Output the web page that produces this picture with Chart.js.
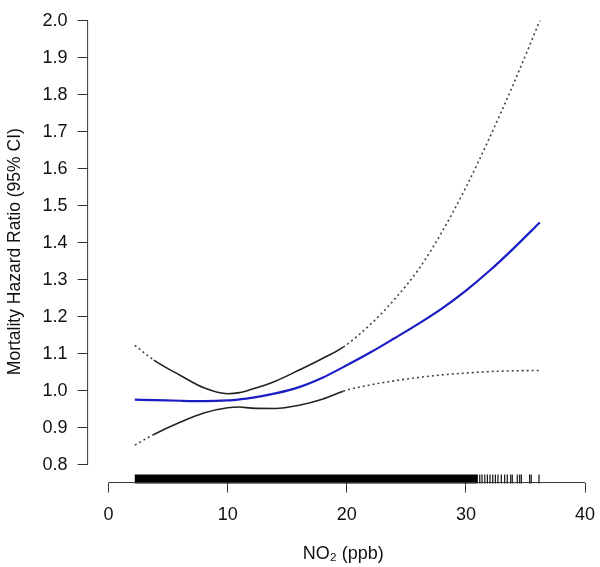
<!DOCTYPE html>
<html>
<head>
<meta charset="utf-8">
<script src="https://cdn.jsdelivr.net/npm/chart.js@4"></script>
<style>
    html, body { margin: 0; padding: 0; background: #fff; }
    #wrap { width: 600px; height: 567px; }
</style>
</head>
<body>
<div id="wrap"><canvas id="hrChart"></canvas></div>
<script>
const no2 = [2.2, 3.8, 6, 8, 10, 11, 12, 14, 16, 18, 19.7, 22, 24, 26, 28, 30, 32, 34, 36.2];
// hazard ratio estimate and 95% CI bounds
const hrEstimate = [0.976, 0.975, 0.973, 0.972, 0.974, 0.977, 0.981, 0.993, 1.010, 1.036, 1.064, 1.104, 1.142, 1.181, 1.223, 1.271, 1.325, 1.385, 1.455];
const hrUpper    = [1.123, 1.083, 1.042, 1.008, 0.992, 0.995, 1.004, 1.026, 1.056, 1.088, 1.118, 1.180, 1.247, 1.327, 1.430, 1.550, 1.685, 1.830, 2.000];
const hrLower    = [0.853, 0.882, 0.915, 0.940, 0.954, 0.956, 0.953, 0.952, 0.961, 0.978, 0.999, 1.016, 1.027, 1.036, 1.043, 1.048, 1.052, 1.054, 1.055];
// CI drawn dotted outside this range
const ciSolidFrom = 3.8;
const ciSolidTo = 19.7;

// rug: dense observations span one band, the sparse tail is single ticks
const rugDense = [2.2, 31.0];
const rugSparse = [31.16, 31.35, 31.58, 31.8, 32.02, 32.25, 32.47, 32.69, 32.97, 33.25, 33.47, 33.76, 33.89, 34.31, 34.51, 34.65, 35.35, 35.48, 36.13];

// tick labels
const xTicks = [0, 10, 20, 30, 40];
const yTicks = [0.8, 0.9, 1.0, 1.1, 1.2, 1.3, 1.4, 1.5, 1.6, 1.7, 1.8, 1.9, 2.0];

const rugY = 0.7614;
const toPts = (ys) => no2.map((x, i) => ({ x: x, y: ys[i] }));
const isDotted = (ctx) => ctx.p0.parsed.x < ciSolidFrom || ctx.p0.parsed.x >= ciSolidTo;
const ciDash = (ctx) => isDotted(ctx) ? [2, 3] : undefined;
const ciColor = (ctx) => isDotted(ctx) ? "#444" : "#222";

// R-style axis lines that only cover the tick range
const rAxes = {
    id: "rAxes",
    afterDraw(chart) {
        const { ctx, scales: { x, y }, chartArea } = chart;
        ctx.save();
        ctx.strokeStyle = "#333";
        ctx.lineWidth = 1;
        ctx.beginPath();
        ctx.moveTo(chartArea.left, y.getPixelForValue(yTicks[0]));
        ctx.lineTo(chartArea.left, y.getPixelForValue(yTicks[yTicks.length - 1]));
        ctx.moveTo(x.getPixelForValue(xTicks[0]), chartArea.bottom);
        ctx.lineTo(x.getPixelForValue(xTicks[xTicks.length - 1]), chartArea.bottom);
        ctx.stroke();
        ctx.restore();
    }
};

const family = "'Liberation Sans', Arial, Helvetica, sans-serif";
const font = { family: family, size: 18 };

new Chart(document.getElementById("hrChart"), {
    type: "line",
    data: {
        datasets: [
            {
                label: "rug band",
                data: rugDense.map((x) => ({ x: x, y: rugY })),
                borderColor: "#000",
                borderWidth: 9,
                borderCapStyle: "butt",
                pointRadius: 0,
                clip: false,
            },
            {
                label: "rug ticks",
                type: "scatter",
                data: rugSparse.map((x) => ({ x: x, y: rugY })),
                pointStyle: "line",
                rotation: 90,
                pointRadius: 4.5,
                borderColor: "#111",
                borderWidth: 1.2,
                clip: false,
            },
            {
                label: "Upper 95% CI",
                data: toPts(hrUpper),
                borderColor: "#222",
                borderWidth: 1.6,
                pointRadius: 0,
                cubicInterpolationMode: "monotone",
                segment: { borderDash: ciDash, borderColor: ciColor },
                clip: false,
            },
            {
                label: "Lower 95% CI",
                data: toPts(hrLower),
                borderColor: "#222",
                borderWidth: 1.6,
                pointRadius: 0,
                cubicInterpolationMode: "monotone",
                segment: { borderDash: ciDash, borderColor: ciColor },
                clip: false,
            },
            {
                label: "Hazard ratio",
                data: toPts(hrEstimate),
                borderColor: "#1c1cc4",
                borderWidth: 2.2,
                pointRadius: 0,
                cubicInterpolationMode: "monotone",
                clip: false,
            },
        ],
    },
    options: {
        responsive: true,
        maintainAspectRatio: false,
        animation: false,
        layout: { autoPadding: false, padding: { top: 15, right: 1, left: 0, bottom: 0 } },
        plugins: {
            legend: { display: false },
            tooltip: { enabled: false },
        },
        scales: {
            x: {
                type: "linear",
                min: -1.76,
                max: 41.17,
                afterBuildTicks: (axis) => { axis.ticks = xTicks.map((v) => ({ value: v })); },
                afterFit: (axis) => { axis.paddingLeft = 0; axis.paddingRight = 0; },
                ticks: { font: { family: family, size: 18, lineHeight: 2.17 }, color: "#111", padding: 3, maxRotation: 0, callback: (v) => String(v) },
                grid: { drawOnChartArea: false, drawTicks: true, tickLength: 10, color: "#333", tickColor: "#333" },
                border: { display: false },
                title: { display: true, text: "NO\u2082 (ppb)", font: font, color: "#111", padding: { top: 5.6, bottom: 2.2 } },
            },
            y: {
                type: "linear",
                min: 0.752,
                max: 2.0,
                afterBuildTicks: (axis) => { axis.ticks = yTicks.map((v) => ({ value: v })); },
                ticks: { font: font, color: "#111", padding: 10, callback: (v) => v.toFixed(1) },
                grid: { drawOnChartArea: false, drawTicks: true, tickLength: 10, color: "#333", tickColor: "#333" },
                border: { display: false },
                title: { display: true, text: "Mortality Hazard Ratio (95% CI)", font: { family: family, size: 17.5 }, color: "#111", padding: { top: 4.8, bottom: 6.8 } },
            },
        },
    },
    plugins: [rAxes],
});
</script>
</body>
</html>
